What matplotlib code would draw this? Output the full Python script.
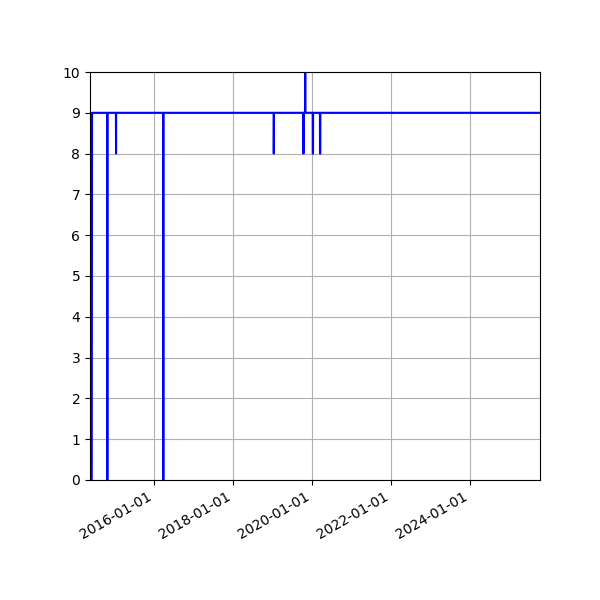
import pandas as pd
import matplotlib
matplotlib.use("Agg")
import matplotlib.pyplot as plt
import matplotlib.dates as mdates

# points of the series (value held between points, dips are short)
dates = [
    "2014-05-16", "2014-06-01", "2014-06-04",
    "2014-10-21", "2014-10-22", "2014-10-25", "2014-10-26",
    "2015-01-11", "2015-01-12", "2015-01-13",
    "2016-03-22", "2016-03-23", "2016-03-26", "2016-03-27",
    "2019-01-10", "2019-01-11", "2019-01-13",
    "2019-10-12", "2019-10-13", "2019-10-14",
    "2019-10-27", "2019-10-28", "2019-10-30", "2019-10-31",
    "2020-01-06", "2020-01-07", "2020-01-09", "2020-01-10",
    "2020-03-13", "2020-03-14", "2020-03-16", "2020-03-17",
    "2025-10-10",
]
values = [
    0, 0, 9,
    9, 0, 0, 9,
    9, 8, 9,
    9, 0, 0, 9,
    9, 8, 9,
    9, 8, 9,
    9, 10, 10, 9,
    9, 8, 8, 9,
    9, 8, 8, 9,
    9,
]

x = pd.to_datetime(dates)

fig, ax = plt.subplots(figsize=(6, 6), dpi=100)
ax.plot(x, values, color="blue")
ax.set_ylim(0, 10)
ax.set_yticks(range(0, 11))
ax.set_xlim(x[0], x[-1])
ax.xaxis.set_major_locator(mdates.YearLocator(2))
ax.xaxis.set_major_formatter(mdates.DateFormatter("%Y-%m-%d"))
ax.grid(True)
fig.autofmt_xdate()
fig.subplots_adjust(left=0.15, right=0.9, top=0.88, bottom=0.2)

plt.savefig("out.png")
